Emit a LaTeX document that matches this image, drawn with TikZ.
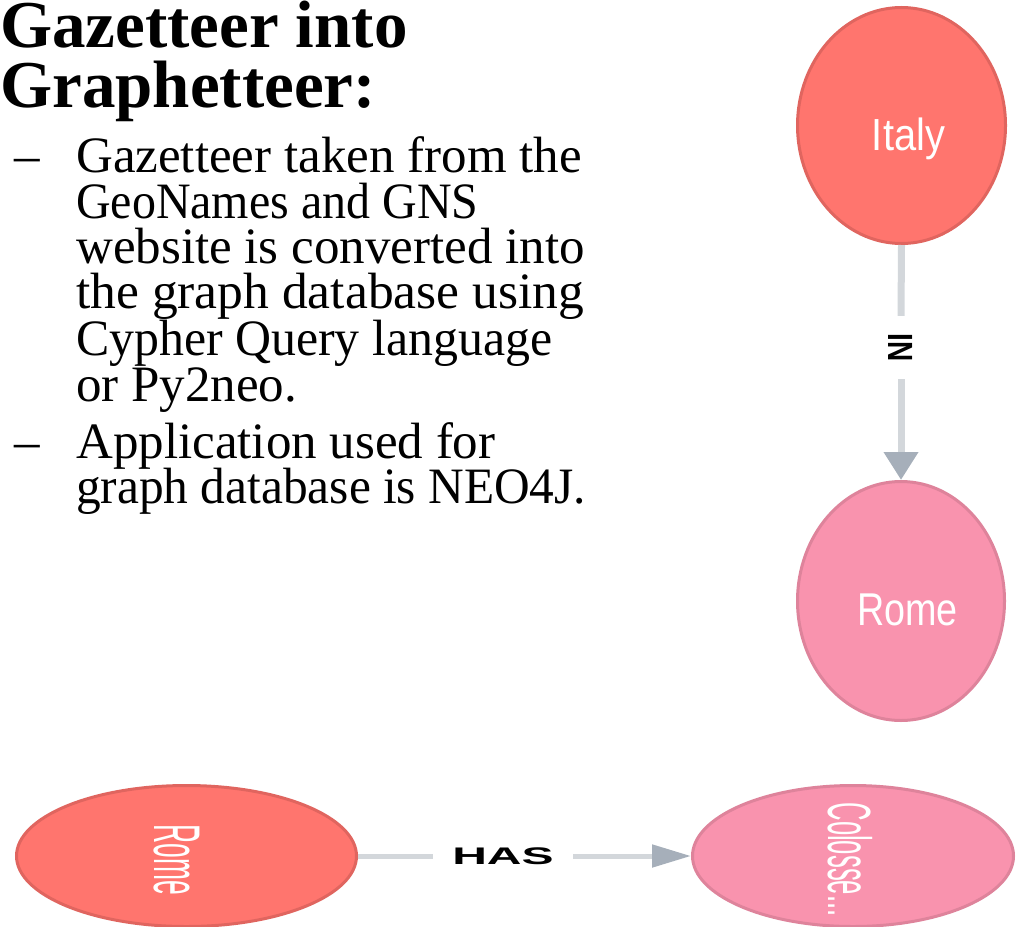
\documentclass[tikz,border=0pt]{standalone}
\usepackage{fontspec}
\setmainfont{Liberation Serif}
\setsansfont{Liberation Sans}
\usetikzlibrary{shapes.geometric,arrows.meta}
\definecolor{countryfill}{HTML}{FF756E}
\definecolor{countryline}{HTML}{E0655F}
\definecolor{placefill}{HTML}{F993AE}
\definecolor{placeline}{HTML}{DE839B}
\definecolor{relline}{HTML}{D3D7DB}
\definecolor{relhead}{HTML}{A6AFBA}
\begin{document}
\begin{tikzpicture}[x=1pt,y=-1pt,
  titleline/.style={anchor=base west,inner sep=0pt,font=\fontsize{67}{60}\selectfont\bfseries},
  bodyline/.style={anchor=base west,inner sep=0pt,font=\fontsize{51}{45}\selectfont},
  country/.style={ellipse,draw=countryline,fill=countryfill,line width=3pt,inner sep=0pt},
  place/.style={ellipse,draw=placeline,fill=placefill,line width=3pt,inner sep=0pt},
  nodelabel/.style={inner sep=0pt,text=white,font=\sffamily},
  rel/.style={draw=relline},
  rellabel/.style={inner sep=0pt,font=\sffamily\bfseries},
]
\useasboundingbox (0,0) rectangle (1019,926);

% heading and bullet text
\node[titleline] (t1) at (0,47) {Gazetteer into};
\node[titleline] (t2) at (0,107) {Graphetteer:};
\node[bodyline] (d1) at (14,172) {–};
\node[bodyline] (b1) at (76,172) {Gazetteer taken from the};
\node[bodyline] (b2) at (76,218) {\scalebox{0.94}[1]{GeoNames and GNS}};
\node[bodyline] (b3) at (76,263) {website is converted into};
\node[bodyline] (b4) at (76,308) {\scalebox{1.01}[1]{the graph database using}};
\node[bodyline] (b5) at (76,355) {\scalebox{0.977}[1]{Cypher Query language}};
\node[bodyline] (b6) at (76,401) {or Py2neo.};
\node[bodyline] (d2) at (14,458) {–};
\node[bodyline] (b7) at (76,458) {Application used for};
\node[bodyline] (b8) at (76,503) {\scalebox{0.968}[1]{graph database is NEO4J.}};

% graph nodes
\node[country,minimum width=208pt,minimum height=236pt] (italy) at (901.5,125.5) {};
\node[place,minimum width=207pt,minimum height=239pt] (rome) at (901,601) {};
\node[country,minimum width=340pt,minimum height=141pt] (romeb) at (186.5,856) {};
\node[place,minimum width=321pt,minimum height=141pt] (colos) at (853,856) {};

\node[nodelabel,anchor=base] (italytxt) at (908.5,150)
  {\scalebox{0.885}[1]{\fontsize{45}{45}\selectfont Italy}};
\node[nodelabel,anchor=base] (rometxt) at (907.5,625)
  {\scalebox{0.82}[1]{\fontsize{46}{46}\selectfont Rome}};
\node[nodelabel] (romebtxt) at (176.5,860)
  {\rotatebox{-90}{\scalebox{0.4}[1]{\fontsize{66}{66}\selectfont Rome}}};
\node[nodelabel] (colostxt) at (850,859.5)
  {\rotatebox{-90}{\scalebox{0.42}[1]{\fontsize{61}{61}\selectfont Colosse...}}};

% relationships
\node[rellabel,minimum height=63pt] (inlbl) at (901,347.5)
  {\rotatebox{-90}{\scalebox{0.8}[1]{\fontsize{35}{35}\selectfont IN}}};
\draw[rel,line width=7pt] (italy.south) -- (inlbl.north);
\draw[rel,line width=7pt,-{Triangle[length=28pt,width=33pt,color=relhead]}]
  (inlbl.south) -- (rome.north);

\node[rellabel,minimum width=140pt] (haslbl) at (503,856)
  {\scalebox{2}[1]{\fontsize{24}{24}\selectfont HAS}};
\draw[rel,line width=5pt] (romeb.east) -- (haslbl.west);
\draw[rel,line width=5pt,-{Triangle[length=39pt,width=22pt,color=relhead]}]
  (haslbl.east) -- (colos.west);
\end{tikzpicture}
\end{document}
